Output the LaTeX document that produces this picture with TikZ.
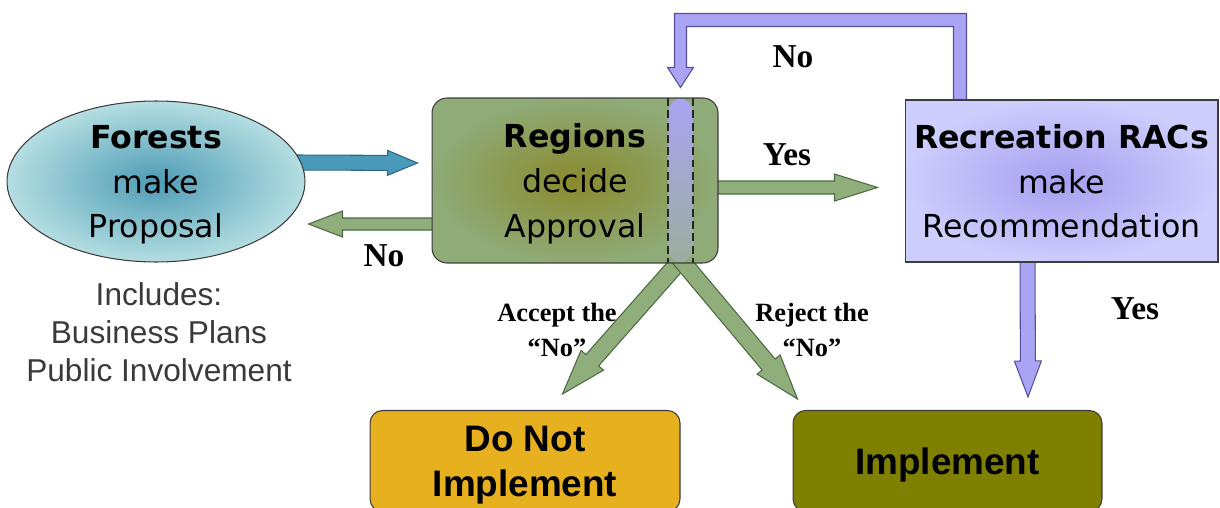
\documentclass[tikz,border=0pt]{standalone}
\usepackage{fontspec}
\setmainfont{DejaVu Sans}
\newfontfamily\notefont{Liberation Sans}
\newfontfamily\answerfont{Liberation Serif}
\usetikzlibrary{calc,shapes.geometric}
\pgfdeclarelayer{bg}
\pgfsetlayers{bg,main}

\definecolor{nodeline}{HTML}{3C3C3C}
\definecolor{forestouter}{HTML}{B4DEE2}
\definecolor{forestinner}{HTML}{4E9CB5}
\definecolor{regionouter}{HTML}{8FAB78}
\definecolor{regioninner}{HTML}{898A2C}
\definecolor{gatetop}{HTML}{AAA3F2}
\definecolor{gatebottom}{HTML}{9BAF9E}
\definecolor{racouter}{HTML}{CDCDFE}
\definecolor{racinner}{HTML}{A79FEF}
\definecolor{donotfill}{HTML}{E6B01E}
\definecolor{implfill}{HTML}{808000}
\definecolor{bluefill}{HTML}{4A9ABB}
\definecolor{blueline}{HTML}{2C6880}
\definecolor{greenfill}{HTML}{8FAE7B}
\definecolor{greenline}{HTML}{4D6A42}
\definecolor{purplefill}{HTML}{AAA4F4}
\definecolor{purpleline}{HTML}{56509A}
\definecolor{notegray}{HTML}{3A3A3A}

\newcommand\boxfont{\fontsize{18}{25.5}\selectfont}
\def\fatarrow[#1](#2)(#3)(#4:#5:#6){%
  \coordinate (fa-s) at (#2);
  \coordinate (fa-t) at (#3);
  \coordinate (fa-h) at ($(fa-t)!#6!(fa-s)$);
  \draw[#1] ($(fa-s)!#4!90:(fa-t)$) -- ($(fa-h)!#4!90:(fa-t)$) -- ($(fa-h)!#5!90:(fa-t)$) -- (fa-t)
    -- ($(fa-h)!#5!-90:(fa-t)$) -- ($(fa-h)!#4!-90:(fa-t)$) -- ($(fa-s)!#4!-90:(fa-t)$) -- cycle;}

\tikzset{
  stepbox/.style={draw=nodeline, line width=0.6pt, align=center, inner sep=0pt, text depth=0pt, font=\boxfont},
  endbox/.style={draw=nodeline, line width=0.6pt, rounded corners=0.25cm, align=center, inner sep=0pt, text depth=0pt,
    minimum width=6.2cm, minimum height=2.02cm, font=\notefont\bfseries\fontsize{21}{25.5}\selectfont},
  answer/.style={inner sep=0pt, font=\answerfont\bfseries\fontsize{19}{22}\selectfont},
  branch/.style={inner sep=0pt, align=center, font=\answerfont\bfseries\fontsize{15}{20}\selectfont},
  bluearrow/.style={fill=bluefill, draw=blueline, line width=0.6pt, line join=miter},
  greenarrow/.style={fill=greenfill, draw=greenline, line width=0.6pt, line join=miter},
  purplearrow/.style={fill=purplefill, draw=purpleline, line width=0.6pt, line join=miter},
  gateline/.style={draw=black!85, line width=0.8pt, dash pattern=on 4.5pt off 2.5pt}
}

\begin{document}
\begin{tikzpicture}[x=0.02cm, y=-0.02cm]
  \useasboundingbox (0,0) rectangle (1220,507);

  % boxes
  \node[stepbox, ellipse, inner color=forestinner, outer color=forestouter,
    minimum width=5.96cm, minimum height=3.22cm] (forest) at (156,181.5)
    {\textbf{Forests}\\make\\Proposal};

  \node[stepbox, rectangle, rounded corners=0.3cm, inner color=regioninner, outer color=regionouter,
    minimum width=5.72cm, minimum height=3.3cm,
    path picture={
      \shade[top color=gatetop, bottom color=gatebottom]
        ($(path picture bounding box.north east)+(-50,0)$) rectangle ($(path picture bounding box.south east)+(-25,0)$);
      \draw[gateline] ($(path picture bounding box.north east)+(-50,0)$) -- ($(path picture bounding box.south east)+(-50,0)$);
      \draw[gateline] ($(path picture bounding box.north east)+(-25,0)$) -- ($(path picture bounding box.south east)+(-25,0)$);
    }] (regions) at (575,180.5)
    {\textbf{Regions}\\decide\\Approval};

  \node[stepbox, rectangle, inner color=racinner, outer color=racouter,
    minimum width=6.26cm, minimum height=3.24cm] (rac) at (1061.5,181)
    {\textbf{Recreation RACs}\\make\\Recommendation};

  \node[endbox, fill=donotfill] (donot) at (525,461) {Do Not\\Implement};
  \node[endbox, fill=implfill, minimum width=6.18cm] (implement) at (947.5,461) {Implement};

  \node[align=center, inner sep=0pt, text=notegray, font=\notefont\fontsize{18}{21.8}\selectfont]
    (includes) at (159,332) {Includes:\\Business Plans\\Public Involvement};

  % labels
  \node[answer] (noleft) at (384,256) {No};
  \node[answer] (notop) at (793,57) {No};
  \node[answer] (yesmid) at (787,155) {Yes};
  \node[answer] (yesright) at (1135,309) {Yes};
  \node[branch] (accept) at (557,330) {Accept the\\“No”};
  \node[branch] (reject) at (812,330) {Reject the\\“No”};

  % arrows
  \begin{pgfonlayer}{bg}
    \fatarrow[bluearrow]({$(forest.east)+(-8,-19)$})({$(regions.west)+(-14,-17.5)$})(0.15cm:0.25cm:0.6cm)
    \fatarrow[greenarrow]({$(regions.west)+(8,43.5)$})({$(forest.east)+(3,42.5)$})(0.12cm:0.26cm:0.68cm)
    \fatarrow[greenarrow]({$(regions.east)+(-8,7)$})({$(rac.west)+(-27,6.5)$})(0.13cm:0.27cm:0.86cm)
    \fatarrow[purplearrow]({$(rac.south)+(-34,-8)$})({$(implement.north)+(80.5,-13)$})(0.15cm:0.27cm:0.72cm)
    \fatarrow[greenarrow]({$(regions.south east)+(-32,-10)$})({$(donot.north east)+(-118,-16)$})(0.17cm:0.3cm:0.9cm)
    \fatarrow[greenarrow]({$(regions.south east)+(-43,-10)$})({$(implement.north west)+(5,-11)$})(0.17cm:0.3cm:0.9cm)
    \draw[purplearrow] ($(rac.north west)+(49,6)$) -- ($(rac.north west)+(49,-73)$)
      -- ($(regions.north east)+(-32,-71)$) -- ($(regions.north east)+(-32,-30)$)
      -- ($(regions.north east)+(-25,-30)$) -- ($(regions.north east)+(-38,-10)$)
      -- ($(regions.north east)+(-51,-30)$) -- ($(regions.north east)+(-44,-30)$)
      -- ($(regions.north east)+(-44,-84)$) -- ($(rac.north west)+(62,-86)$)
      -- ($(rac.north west)+(62,6)$) -- cycle;
  \end{pgfonlayer}
\end{tikzpicture}
\end{document}
